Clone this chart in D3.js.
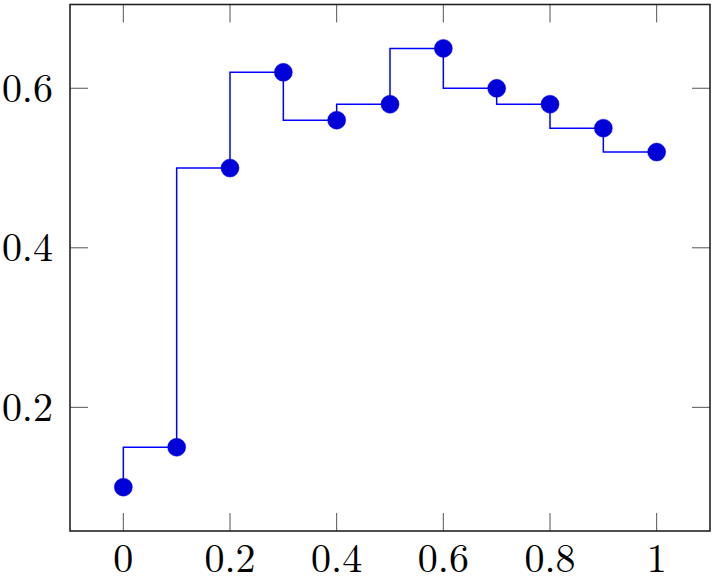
<!DOCTYPE html>
<html>
<head>
<meta charset="utf-8">
<script src="https://cdn.jsdelivr.net/npm/d3@7"></script>
<style>
  body { margin: 0; background: #fff; }
</style>
</head>
<body>
<div id="chart"></div>
<script>
let width = 716, height = 578;

// Data
let xValues = [0, 0.1, 0.2, 0.3, 0.4, 0.5, 0.6, 0.7, 0.8, 0.9, 1];
let yValues = [0.1, 0.15, 0.5, 0.62, 0.56, 0.58, 0.65, 0.6, 0.58, 0.55, 0.52];
let xTicks = [0, 0.2, 0.4, 0.6, 0.8, 1];
let yTicks = [0.2, 0.4, 0.6];

let points = xValues.map((x, i) => ({ x: x, y: yValues[i] }));

// Plot frame
let plotLeft = 70, plotRight = 710, plotTop = 4.5, plotBottom = 531;
let serif = "'Latin Modern Roman', 'Liberation Serif', serif";

let svg = d3.select("#chart")
    .append("svg")
    .attr("width", width)
    .attr("height", height);

let x = d3.scaleLinear().domain([-0.1, 1.1]).range([plotLeft, plotRight]);
let y = d3.scaleLinear().domain([0.045, 0.705]).range([plotBottom, plotTop]);

let tickLen = 18;
let fmt = d => d3.format("")(d);

// Ticks on all four sides, pointing inward
let ticks = svg.append("g").attr("stroke", "#555").attr("stroke-width", 1);
xTicks.forEach(t => {
    ticks.append("line").attr("x1", x(t)).attr("x2", x(t)).attr("y1", plotBottom).attr("y2", plotBottom - tickLen);
    ticks.append("line").attr("x1", x(t)).attr("x2", x(t)).attr("y1", plotTop).attr("y2", plotTop + tickLen);
});
yTicks.forEach(t => {
    ticks.append("line").attr("y1", y(t)).attr("y2", y(t)).attr("x1", plotLeft).attr("x2", plotLeft + tickLen);
    ticks.append("line").attr("y1", y(t)).attr("y2", y(t)).attr("x1", plotRight).attr("x2", plotRight - tickLen);
});

// Tick labels
svg.append("g")
    .selectAll("text")
    .data(xTicks)
    .enter().append("text")
    .attr("x", d => x(d))
    .attr("y", 572)
    .attr("text-anchor", "middle")
    .style("font-family", serif)
    .style("font-size", "40px")
    .text(fmt);

svg.append("g")
    .selectAll("text")
    .data(yTicks)
    .enter().append("text")
    .attr("x", plotLeft - 17)
    .attr("y", d => y(d) + 13.5)
    .attr("text-anchor", "end")
    .style("font-family", serif)
    .style("font-size", "40px")
    .text(fmt);

// Step line (jumps at each point's x)
let line = d3.line()
    .x(d => x(d.x))
    .y(d => y(d.y))
    .curve(d3.curveStepBefore);

svg.append("path")
    .datum(points)
    .attr("d", line)
    .attr("fill", "none")
    .attr("stroke", "#0000ff")
    .attr("stroke-width", 1.5);

// Markers
svg.append("g")
    .selectAll("circle")
    .data(points)
    .enter().append("circle")
    .attr("cx", d => x(d.x))
    .attr("cy", d => y(d.y))
    .attr("r", 9)
    .attr("fill", "#0000d9")
    .attr("stroke", "#0000ff")
    .attr("stroke-width", 0.5);

// Frame on top
svg.append("rect")
    .attr("x", plotLeft)
    .attr("y", plotTop)
    .attr("width", plotRight - plotLeft)
    .attr("height", plotBottom - plotTop)
    .attr("fill", "none")
    .attr("stroke", "#222")
    .attr("stroke-width", 1.6);
</script>
</body>
</html>
